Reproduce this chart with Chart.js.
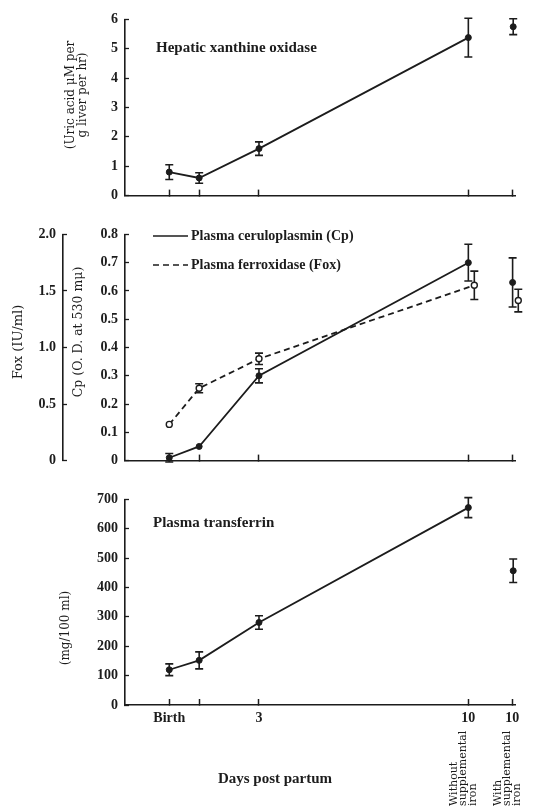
<!DOCTYPE html>
<html>
<head>
<meta charset="utf-8">
<script src="https://cdn.jsdelivr.net/npm/chart.js@4.4.0/dist/chart.umd.min.js"></script>
<style>
  body { margin: 0; background: #fff; width: 533px; height: 807px; position: relative; overflow: hidden; }
  canvas { position: absolute; left: 0; }
</style>
</head>
<body>
<canvas id="xoChart" width="533" height="215" style="top:0"></canvas>
<canvas id="cpChart" width="533" height="265" style="top:215px"></canvas>
<canvas id="tfChart" width="533" height="327" style="top:480px"></canvas>
<script>
// x positions (days post partum); last column is the "with supplemental iron" group
var dayTicks = [0, 1, 3, 10, 11.47];
var dayLabels = ["Birth", "", "3", "10", "10"];
var days = [0, 1, 3, 10];
var ironDay = 11.5;

// hepatic xanthine oxidase (uric acid uM / g liver / hr)
var xanthine = [0.8, 0.6, 1.6, 5.38];
var xanthineErr = [0.25, 0.18, 0.23, 0.66];
var xanthineIron = [5.75];
var xanthineIronErr = [0.27];

// plasma ceruloplasmin (O.D. at 530 mu)
var cpDays = [0, 1, 3, 10];
var cp = [0.01, 0.05, 0.30, 0.70];
var cpErr = [0.015, 0, 0.025, 0.065];
var cpIronDay = 11.48;
var cpIron = [0.63];
var cpIronErr = [0.087];

// plasma ferroxidase (IU/ml), plotted a little right of the Cp points at day 10
var foxDays = [0, 1, 3, 10.2];
var fox = [0.32, 0.64, 0.90, 1.55];
var foxErr = [0, 0.04, 0.05, 0.125];
var foxIronDay = 11.67;
var foxIron = [1.415];
var foxIronErr = [0.1];

// plasma transferrin (mg/100 ml)
var transferrin = [120, 152, 281, 672];
var transferrinErr = [20, 29, 23, 34];
var transferrinIron = [457];
var transferrinIronErr = [40];

var ink = "#1c1c1c";
var serif = "'Liberation Serif', 'DejaVu Serif', serif";
var wide = "'DejaVu Serif', serif";

Chart.defaults.font.family = serif;
Chart.defaults.font.weight = "bold";
Chart.defaults.font.size = 14;
Chart.defaults.color = ink;
Chart.defaults.animation = false;

function pts(xs, ys) {
    return ys.map(function (y, i) { return { x: xs[i], y: y }; });
}

// vertical error bars with caps, drawn under the markers
var errorBars = {
    id: "errorBars",
    beforeDatasetsDraw: function (chart) {
        var ctx = chart.ctx;
        chart.data.datasets.forEach(function (ds, i) {
            if (!ds.errors) return;
            var meta = chart.getDatasetMeta(i);
            var yScale = chart.scales[meta.yAxisID];
            ctx.save();
            ctx.strokeStyle = ink;
            ctx.lineWidth = 1.6;
            meta.data.forEach(function (pt, j) {
                var e = ds.errors[j];
                if (!e) return;
                var v = ds.data[j].y;
                var top = yScale.getPixelForValue(v + e);
                var bot = yScale.getPixelForValue(v - e);
                ctx.beginPath();
                ctx.moveTo(pt.x, top); ctx.lineTo(pt.x, bot);
                ctx.moveTo(pt.x - 4, top); ctx.lineTo(pt.x + 4, top);
                ctx.moveTo(pt.x - 4, bot); ctx.lineTo(pt.x + 4, bot);
                ctx.stroke();
            });
            ctx.restore();
        });
    }
};

// free text: panel names, axis titles, legend
var notes = {
    id: "notes",
    afterDraw: function (chart, args, opts) {
        var ctx = chart.ctx;
        (opts.items || []).forEach(function (n) {
            ctx.save();
            ctx.font = n.font || ("bold 15px " + serif);
            ctx.fillStyle = ink;
            ctx.textAlign = n.align || "left";
            ctx.textBaseline = "middle";
            ctx.translate(n.x, n.y);
            if (n.rotate) ctx.rotate(-Math.PI / 2);
            ctx.fillText(n.text, 0, 0);
            ctx.restore();
        });
        if (opts.legend) {
            var L = opts.legend;
            chart.data.datasets.forEach(function (ds, i) {
                if (!ds.label) return;
                var y = L.y + i * L.gap;
                ctx.save();
                ctx.strokeStyle = ink;
                ctx.lineWidth = 1.6;
                ctx.setLineDash(ds.borderDash || []);
                ctx.beginPath();
                ctx.moveTo(L.x, y); ctx.lineTo(L.x + L.len, y);
                ctx.stroke();
                ctx.font = "bold 14px " + serif;
                ctx.fillStyle = ink;
                ctx.textBaseline = "middle";
                ctx.fillText(ds.label, L.x + L.len + 3, y);
                ctx.restore();
            });
        }
        if (opts.groups) {
            var xs = chart.scales.x;
            opts.groups.forEach(function (g) {
                var cx = xs.getPixelForValue(g.value) - 5;
                g.lines.forEach(function (t, k) {
                    ctx.save();
                    ctx.font = "11px " + wide;
                    ctx.fillStyle = ink;
                    ctx.textAlign = "left";
                    ctx.textBaseline = "middle";
                    ctx.translate(cx + (k - 1) * 9.5, opts.groupBottom);
                    ctx.rotate(-Math.PI / 2);
                    ctx.fillText(t, 0, 0);
                    ctx.restore();
                });
            });
        }
    }
};

function xAxis(height, showLabels) {
    return {
        type: "linear",
        min: -1.48,
        max: 11.56,
        afterBuildTicks: function (s) { s.ticks = dayTicks.map(function (v) { return { value: v }; }); },
        afterFit: function (s) { s.height = height; },
        grid: { display: true, drawOnChartArea: false, drawTicks: true, tickLength: -6, tickColor: ink, tickWidth: 1.5 },
        border: { display: true, color: ink, width: 1.6 },
        ticks: {
            display: showLabels,
            autoSkip: false,
            maxRotation: 0,
            padding: 11,
            callback: function (v) { return dayLabels[dayTicks.indexOf(v)]; }
        }
    };
}

function yAxis(width, min, max, step, fmt, weight) {
    return {
        type: "linear",
        position: "left",
        weight: weight || 0,
        min: min,
        max: max,
        afterFit: function (s) { s.width = width; },
        grid: { display: true, drawOnChartArea: false, drawTicks: true, tickLength: -4, tickColor: ink, tickWidth: 1.3 },
        border: { display: true, color: ink, width: 1.6 },
        ticks: { stepSize: step, padding: 11, callback: fmt }
    };
}

function lineSet(data, errors, extra) {
    var ds = {
        data: data,
        errors: errors,
        showLine: true,
        borderColor: ink,
        borderWidth: 1.8,
        pointRadius: 3,
        pointBackgroundColor: ink,
        pointBorderColor: ink,
        pointBorderWidth: 1,
        clip: false
    };
    return Object.assign(ds, extra || {});
}

function dotSet(data, errors, extra) {
    return lineSet(data, errors, Object.assign({ showLine: false }, extra || {}));
}

function baseOptions(padTop, scales, notesOpts) {
    return {
        responsive: false,
        animation: false,
        layout: { padding: { top: padTop, right: 18, left: 0, bottom: 0 }, autoPadding: false },
        scales: scales,
        plugins: { legend: { display: false }, tooltip: { enabled: false }, notes: notesOpts }
    };
}

function oneDecimal(v) { return v === 0 ? "0" : v.toFixed(1); }

// panel 1: hepatic xanthine oxidase
new Chart(document.getElementById("xoChart"), {
    type: "scatter",
    data: {
        datasets: [
            lineSet(pts(days, xanthine), xanthineErr),
            dotSet(pts([ironDay], xanthineIron), xanthineIronErr)
        ]
    },
    options: baseOptions(18, {
        x: xAxis(18, false),
        y: yAxis(125, 0, 6, 1)
    }, {
        items: [
            { text: "Hepatic xanthine oxidase", x: 156, y: 48 },
            { text: "(Uric acid \u03bcM per", x: 71, y: 95, rotate: true, align: "center", font: "12px " + wide },
            { text: "g liver per hr)", x: 83, y: 95, rotate: true, align: "center", font: "12px " + wide }
        ]
    }),
    plugins: [errorBars, notes]
});

// panel 2: plasma ceruloplasmin and ferroxidase
new Chart(document.getElementById("cpChart"), {
    type: "scatter",
    data: {
        datasets: [
            lineSet(pts(cpDays, cp), cpErr, { label: "Plasma ceruloplasmin (Cp)", yAxisID: "y" }),
            lineSet(pts(foxDays, fox), foxErr, {
                label: "Plasma ferroxidase (Fox)", yAxisID: "yFox", borderDash: [6, 4],
                pointBackgroundColor: "#fff", pointBorderWidth: 1.4
            }),
            dotSet(pts([cpIronDay], cpIron), cpIronErr, { yAxisID: "y" }),
            dotSet(pts([foxIronDay], foxIron), foxIronErr, { yAxisID: "yFox", pointBackgroundColor: "#fff", pointBorderWidth: 1.4 })
        ]
    },
    options: baseOptions(13, {
        x: xAxis(14, false),
        y: yAxis(62, 0, 0.8, 0.1, oneDecimal, 0),
        yFox: yAxis(63, 0, 2, 0.5, oneDecimal, 1)
    }, {
        items: [
            { text: "Fox (IU/ml)", x: 19, y: 127, rotate: true, align: "center", font: "13px " + wide },
            { text: "Cp (O. D. at 530 m\u03bc)", x: 79, y: 117, rotate: true, align: "center", font: "12.5px " + wide }
        ],
        legend: { x: 153, y: 21, gap: 29, len: 35 }
    }),
    plugins: [errorBars, notes]
});

// panel 3: plasma transferrin
new Chart(document.getElementById("tfChart"), {
    type: "scatter",
    data: {
        datasets: [
            lineSet(pts(days, transferrin), transferrinErr),
            dotSet(pts([ironDay], transferrinIron), transferrinIronErr)
        ]
    },
    options: baseOptions(17, {
        x: xAxis(102, true),
        y: yAxis(125, 0, 700, 100)
    }, {
        items: [
            { text: "Plasma transferrin", x: 153, y: 43 },
            { text: "(mg/100 ml)", x: 66, y: 148, rotate: true, align: "center", font: "12px " + wide },
            { text: "Days post partum", x: 275, y: 299, align: "center" }
        ],
        groups: [
            { value: 10, lines: ["Without", "supplemental", "iron"] },
            { value: 11.47, lines: ["With", "supplemental", "iron"] }
        ],
        groupBottom: 326
    }),
    plugins: [errorBars, notes]
});
</script>
</body>
</html>
